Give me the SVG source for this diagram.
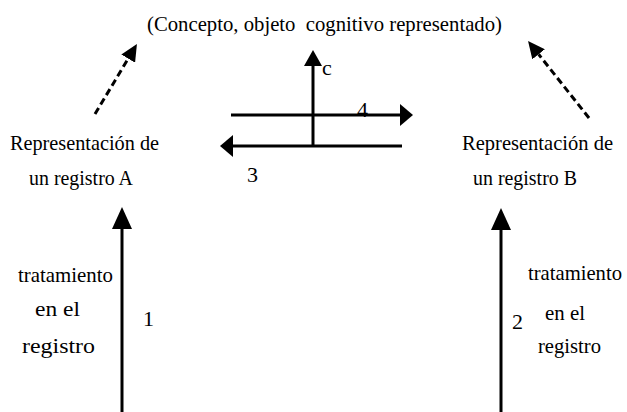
<svg xmlns="http://www.w3.org/2000/svg" width="627" height="412" viewBox="0 0 627 412" font-family="Liberation Serif, serif">
  <style>
    text { font-size: 22px; fill: #000; }
    .t { font-size: 22px; }
    .ln { stroke: #000; stroke-width: 3; fill: none; }
    .dash { stroke: #000; stroke-width: 3; fill: none; stroke-dasharray: 7 4; }
  </style>
  <defs>
    <marker id="ahBig" markerUnits="userSpaceOnUse" viewBox="0 0 22 20" markerWidth="22" markerHeight="20" refX="0" refY="10" orient="auto">
      <path d="M0,0 L22,10 L0,20 z" fill="#000"/>
    </marker>
    <marker id="ahH" markerUnits="userSpaceOnUse" viewBox="0 0 13 22" markerWidth="13" markerHeight="22" refX="0" refY="11" orient="auto">
      <path d="M0,0 L13,11 L0,22 z" fill="#000"/>
    </marker>
    <marker id="ahMid" markerUnits="userSpaceOnUse" viewBox="0 0 16 18" markerWidth="16" markerHeight="18" refX="0" refY="9" orient="auto">
      <path d="M0,0 L16,9 L0,18 z" fill="#000"/>
    </marker>
    <marker id="ahDash" markerUnits="userSpaceOnUse" viewBox="0 0 17 16" markerWidth="17" markerHeight="16" refX="0" refY="8" orient="auto">
      <path d="M0,0 L17,8 L0,16 z" fill="#000"/>
    </marker>
  </defs>

  <g id="connectors">
    <line class="dash" x1="95" y1="114" x2="128.2" y2="58.6" marker-end="url(#ahDash)"/>
    <line class="dash" x1="589" y1="118" x2="538.6" y2="54.3" marker-end="url(#ahDash)"/>
    <line class="ln" x1="313" y1="147" x2="313" y2="66" marker-end="url(#ahMid)"/>
    <line class="ln" x1="231" y1="115" x2="400" y2="115" marker-end="url(#ahH)"/>
    <line class="ln" x1="402" y1="146" x2="233" y2="146" marker-end="url(#ahH)"/>
    <line class="ln" x1="122" y1="412" x2="122" y2="229" marker-end="url(#ahBig)"/>
    <line class="ln" x1="501" y1="412" x2="501" y2="230" marker-end="url(#ahBig)"/>
    <text x="322" y="75">c</text>
    <text x="357" y="117">4</text>
    <text x="247" y="182">3</text>
    <text x="143" y="326">1</text>
    <text x="512" y="329">2</text>
  </g>

  <g id="concepto">
    <text class="t" x="147" y="31" textLength="355" lengthAdjust="spacingAndGlyphs" xml:space="preserve">(Concepto, objeto  cognitivo representado)</text>
  </g>

  <g id="registroA">
    <text x="10" y="150" textLength="149" lengthAdjust="spacingAndGlyphs">Representación de</text>
    <text x="29" y="185" textLength="104" lengthAdjust="spacingAndGlyphs">un registro A</text>
  </g>

  <g id="registroB">
    <text x="462" y="150" textLength="151" lengthAdjust="spacingAndGlyphs">Representación de</text>
    <text x="473" y="185" textLength="104" lengthAdjust="spacingAndGlyphs">un registro B</text>
  </g>

  <g id="tratamientoA">
    <text x="18" y="282" textLength="95" lengthAdjust="spacingAndGlyphs">tratamiento</text>
    <text x="35" y="316" textLength="45" lengthAdjust="spacingAndGlyphs">en el</text>
    <text x="22" y="353" textLength="73" lengthAdjust="spacingAndGlyphs">registro</text>
  </g>

  <g id="tratamientoB">
    <text x="528" y="280" textLength="94" lengthAdjust="spacingAndGlyphs">tratamiento</text>
    <text x="545" y="320" textLength="40" lengthAdjust="spacingAndGlyphs">en el</text>
    <text x="538" y="353" textLength="63" lengthAdjust="spacingAndGlyphs">registro</text>
  </g>
</svg>
